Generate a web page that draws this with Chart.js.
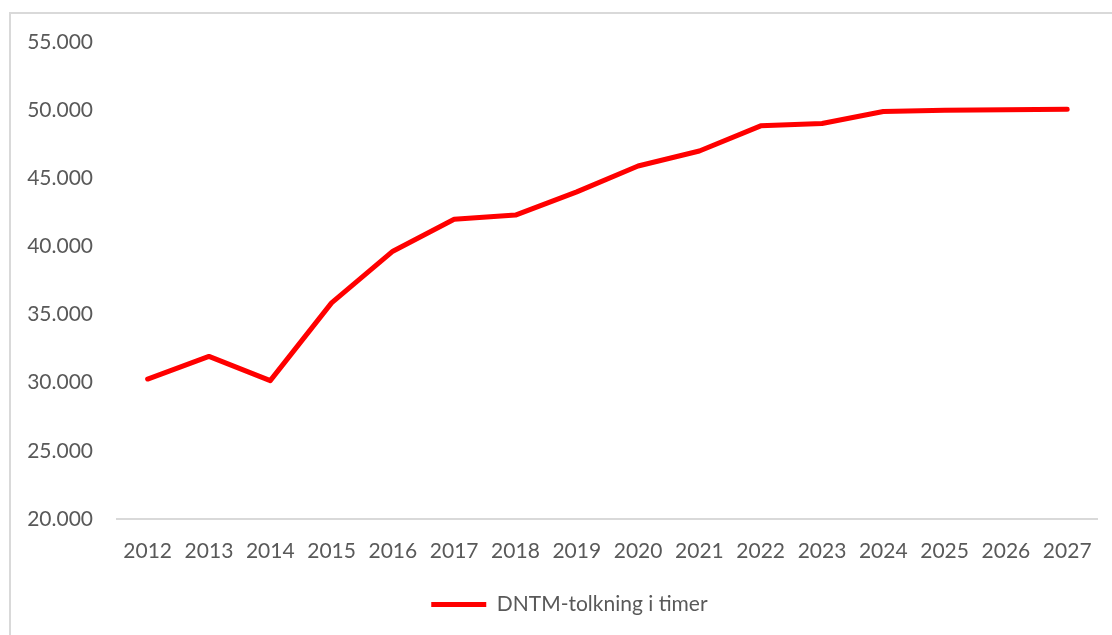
<!DOCTYPE html>
<html>
<head>
<meta charset="utf-8">
<script src="https://cdn.jsdelivr.net/npm/chart.js@4"></script>
<style>
  html, body { margin: 0; padding: 0; background: #fff; overflow: hidden; }
  #wrap { position: relative; width: 1112px; height: 635px; }
  #frame {
    position: absolute; left: 9px; top: 12px; width: 1200px; height: 700px;
    border: 2px solid #d9d9d9; box-sizing: border-box; pointer-events: none;
  }
  canvas { position: absolute; left: 0; top: 0; }
</style>
</head>
<body>
<div id="wrap">
  <canvas id="chart" width="1112" height="635"></canvas>
  <div id="frame"></div>
</div>
<script>
// Tolking via DNTM, timer per år
const years = ['2012', '2013', '2014', '2015', '2016', '2017', '2018', '2019',
               '2020', '2021', '2022', '2023', '2024', '2025', '2026', '2027'];
const hours = [30270, 31930, 30150, 35860, 39650, 42000, 42300, 44000,
               45900, 47000, 48850, 49020, 49900, 50000, 50030, 50070];
const seriesName = 'DNTM-tolkning i timer';
const yMin = 20000, yMax = 55000, yStep = 5000;

const textColor = '#595959';
const font = { family: 'Lato, "Open Sans", sans-serif', size: 21 };

function fmtThousands(v) {
  return String(Math.round(v)).replace(/\B(?=(\d{3})+(?!\d))/g, '.');
}

// centre the legend under the plot area rather than the whole canvas
const legendUnderPlot = {
  id: 'legendUnderPlot',
  afterLayout(chart) {
    const lg = chart.legend;
    if (!lg) return;
    const shift = (chart.chartArea.left + chart.chartArea.right) / 2 - (lg.left + lg.right) / 2 - 38;
    lg.left += shift;
    lg.right += shift;
  }
};

new Chart(document.getElementById('chart'), {
  type: 'line',
  data: {
    labels: years,
    datasets: [{
      label: seriesName,
      data: hours,
      borderColor: '#ff0000',
      backgroundColor: '#ff0000',
      borderWidth: 5,
      borderCapStyle: 'round',
      borderJoinStyle: 'round',
      pointRadius: 0,
      pointHoverRadius: 0,
      tension: 0,
      fill: false
    }]
  },
  plugins: [legendUnderPlot],
  options: {
    responsive: false,
    animation: false,
    devicePixelRatio: 1,
    layout: { padding: { top: 42, right: 14, bottom: 10, left: 0 } },
    plugins: {
      tooltip: { enabled: false },
      legend: {
        position: 'bottom',
        labels: {
          usePointStyle: true,
          pointStyle: 'line',
          pointStyleWidth: 55,
          boxHeight: 5,
          padding: 13,
          color: textColor,
          font: font
        }
      }
    },
    scales: {
      x: {
        offset: true,
        grid: { display: false, drawTicks: false },
        border: { display: true, color: '#d9d9d9', width: 2 },
        ticks: { color: textColor, font: font, padding: 20, maxRotation: 0, autoSkip: false },
        afterFit: (s) => { s.height = 62; }
      },
      y: {
        min: yMin,
        max: yMax,
        grid: { display: false, drawTicks: false },
        border: { display: false },
        ticks: {
          stepSize: yStep,
          color: textColor,
          font: font,
          padding: 24,
          callback: (v) => fmtThousands(v)
        },
        afterFit: (s) => { s.width = 117; }
      }
    }
  }
});
</script>
</body>
</html>
